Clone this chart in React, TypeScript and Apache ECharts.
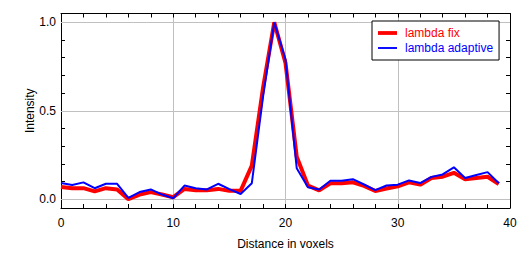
import React, { useEffect, useRef } from "react";
import * as echarts from "echarts";

const distances = [0, 1, 2, 3, 4, 5, 6, 7, 8, 9, 10, 11, 12, 13, 14, 15, 16, 17, 18, 19, 20, 21, 22, 23, 24, 25, 26, 27, 28, 29, 30, 31, 32, 33, 34, 35, 36, 37, 38, 39];
const lambdaFix = [0.069, 0.062, 0.062, 0.044, 0.062, 0.055, 0.0, 0.026, 0.04, 0.026, 0.011, 0.058, 0.051, 0.051, 0.058, 0.047, 0.047, 0.19, 0.63, 1.0, 0.77, 0.24, 0.077, 0.05, 0.09, 0.09, 0.095, 0.075, 0.046, 0.06, 0.073, 0.095, 0.082, 0.12, 0.127, 0.149, 0.113, 0.12, 0.127, 0.086];
const lambdaAdaptive = [0.091, 0.08, 0.095, 0.062, 0.087, 0.087, 0.007, 0.04, 0.055, 0.026, 0.005, 0.077, 0.062, 0.055, 0.087, 0.057, 0.029, 0.09, 0.58, 1.0, 0.79, 0.175, 0.067, 0.055, 0.104, 0.104, 0.113, 0.083, 0.051, 0.077, 0.082, 0.106, 0.091, 0.126, 0.14, 0.18, 0.12, 0.137, 0.153, 0.09];
const yTickValues = [0, 0.1, 0.2, 0.3, 0.4, 0.5, 0.6, 0.7, 0.8, 0.9, 1.0];
const yLabelValues = [0, 0.5, 1.0];
const yGridValues = [0, 0.5, 1.0];

const FONT = "'Liberation Sans', Arial, sans-serif";

export default function App() {
  const ref = useRef<HTMLDivElement>(null);
  useEffect(() => {
    if (!ref.current) return;
    const chart = echarts.init(ref.current, null, { renderer: "svg" });
    const axisCommonX = {
      type: "value" as const,
      min: 0,
      max: 40,
      interval: 10,
      axisLine: { show: true, onZero: false, lineStyle: { color: "#000", width: 1 } },
      axisTick: { show: true, inside: true, length: 4, lineStyle: { color: "#000" } },
      minorTick: { show: true, splitNumber: 5, length: 4, lineStyle: { color: "#000" } },
    };
    // axis carrying the frame line (no ticks)
    const yLineAxis = (position: "left" | "right") => ({
      type: "value" as const,
      position,
      min: -0.05,
      max: 1.05,
      axisLine: { show: true, onZero: false, lineStyle: { color: "#000", width: 1 } },
      axisTick: { show: false },
      axisLabel: { show: false },
      splitLine: { show: false },
    });
    // axis carrying the ticks (every 0.1)
    const yTickAxis = (position: "left" | "right") => ({
      type: "value" as const,
      position,
      min: -0.05,
      max: 1.05,
      axisLine: { show: false, onZero: false },
      axisTick: { show: true, inside: true, length: 4, customValues: yTickValues, lineStyle: { color: "#000" } },
      splitLine: { show: false },
    });
    chart.setOption({
      animation: false,
      backgroundColor: "#fff",
      textStyle: { fontFamily: FONT },
      grid: { left: 61, right: 20, top: 13.5, bottom: 41.5, containLabel: false },
      legend: {
        orient: "vertical",
        left: 372,
        top: 21,
        padding: [6, 6, 6, 6],
        itemGap: 3,
        itemWidth: 19,
        itemHeight: 12,
        borderColor: "#000",
        borderWidth: 1,
        borderRadius: 0,
        backgroundColor: "#fff",
        textStyle: { fontSize: 12, fontFamily: FONT, padding: [0, 0, 0, 3] },
        data: [
          { name: "lambda fix", icon: "path://M0,0H20V4H0Z", itemStyle: { color: "#ff0000" }, textStyle: { color: "#ff0000" } },
          { name: "lambda adaptive", icon: "path://M0,0H20V2H0Z", itemStyle: { color: "#0000ff" }, textStyle: { color: "#0000ff" } },
        ],
      },
      xAxis: [
        {
          ...axisCommonX,
          position: "bottom",
          splitLine: { show: true, lineStyle: { color: "#c0c0c0", width: 1 } },
          axisLabel: { show: true, color: "#000", fontSize: 12, fontFamily: FONT, margin: 9 },
          name: "Distance in voxels",
          nameLocation: "middle",
          nameGap: 30,
          nameTextStyle: { color: "#000", fontSize: 12, fontFamily: FONT },
        },
        {
          ...axisCommonX,
          position: "top",
          splitLine: { show: false },
          axisLabel: { show: false },
        },
      ],
      yAxis: [
        {
          ...yLineAxis("left"),
          name: "Intensity",
          nameLocation: "middle",
          nameRotate: 90,
          nameGap: 25,
          nameTextStyle: { color: "#000", fontSize: 12, fontFamily: FONT },
        },
        {
          ...yTickAxis("left"),
          axisLabel: {
            show: true,
            color: "#000",
            fontSize: 12,
            fontFamily: FONT,
            margin: 5,
            customValues: yLabelValues,
            formatter: (v: number) => v.toFixed(1),
          },
        },
        yLineAxis("right"),
        { ...yTickAxis("right"), axisLabel: { show: false } },
      ],
      series: [
        {
          name: "lambda fix",
          type: "line",
          xAxisIndex: 0,
          yAxisIndex: 0,
          symbol: "none",
          data: distances.map((d, i) => [d, lambdaFix[i]]),
          lineStyle: { color: "#ff0000", width: 4 },
          itemStyle: { color: "#ff0000" },
          z: 2,
          markLine: {
            silent: true,
            symbol: "none",
            z: 1,
            label: { show: false },
            lineStyle: { color: "#c0c0c0", width: 1, type: "solid" },
            emphasis: { disabled: true },
            data: yGridValues.map((v) => ({ yAxis: v })),
          },
        },
        {
          name: "lambda adaptive",
          type: "line",
          xAxisIndex: 0,
          yAxisIndex: 0,
          symbol: "none",
          data: distances.map((d, i) => [d, lambdaAdaptive[i]]),
          lineStyle: { color: "#0000ff", width: 2 },
          itemStyle: { color: "#0000ff" },
          z: 3,
        },
      ],
    });
    return () => chart.dispose();
  }, []);
  return <div ref={ref} style={{ position: "fixed", left: 0, top: 0, width: 530, height: 255 }} />;
}
